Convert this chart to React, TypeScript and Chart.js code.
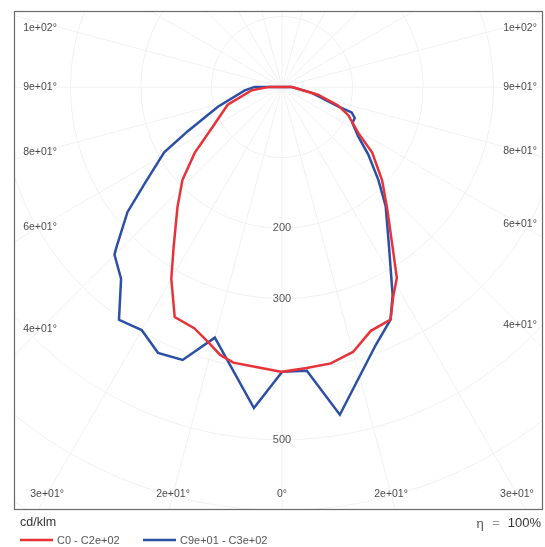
import React, { useEffect, useRef } from "react";
import { Chart, registerables } from "chart.js";

Chart.register(...registerables);

// ---- Data (gamma angle in degrees from nadir, negative = left; intensity in cd/klm)
const redAngles = [-90, -84, -72, -60, -53, -47, -41, -34, -30, -25, -20, -16, -13, -10, -5, 0, 5, 10, 15, 20, 25, 28, 31, 34, 41, 47, 54, 59, 67, 72, 78, 90];
const redValues = [20, 43, 81, 114, 155, 193, 226, 275, 314, 360, 364, 377, 390, 397, 399, 404, 400, 398, 389, 368, 364, 336, 316, 282, 227, 194, 158, 126, 102, 83, 52, 14];

const blueAngles = [-90, -85, -73, -65, -61, -55, -51, -46, -45, -40, -35, -30, -25, -20, -15, -5, 0, 5, 10, 20, 25, 28, 34, 41, 46, 52, 57, 63, 67, 70, 71, 79, 90];
const blueValues = [40, 53, 95, 147, 191, 237, 282, 326, 336, 355, 403, 398, 416, 412, 368, 457, 404, 404, 472, 389, 364, 334, 271, 224, 190, 155, 129, 112, 112, 105, 84, 43, 14];

const seriesLabels = ["C0 - C2e+02", "C9e+01 - C3e+02"];
const seriesColors = ["#e8323a", "#2c4fa6"];

const gridCircles = [100, 200, 300, 400, 500, 600, 700];
const radialTickValues = [200, 300, 500];
const gridAngleStep = 15;

const angleTicks = [-105, -90, -75, -60, -45, -30, -15, 0, 15, 30, 45, 60, 75, 90, 105];
const angleTickLabels = ["1e+02°", "9e+01°", "8e+01°", "6e+01°", "4e+01°", "3e+01°", "2e+01°", "0°", "2e+01°", "3e+01°", "4e+01°", "6e+01°", "8e+01°", "9e+01°", "1e+02°"];

const unitLabel = "cd/klm";
const efficiencyLabel = "100%";

const FONT = "'Liberation Sans', Arial, sans-serif";

function toXY(angles: number[], values: number[]) {
  const pts = angles.map((a, i) => {
    const t = (a * Math.PI) / 180;
    return { x: values[i] * Math.sin(t), y: -values[i] * Math.cos(t) };
  });
  if (pts.length) pts.push({ ...pts[0] });
  return pts;
}

const photometricPlugin = {
  id: "photometric",
  beforeDatasetsDraw(chart: any) {
    const { ctx, chartArea: ca, scales } = chart;
    const xs = scales.x;
    const ys = scales.y;
    const ox = xs.getPixelForValue(0);
    const oy = ys.getPixelForValue(0);
    const k = xs.getPixelForValue(100) - ox;
    ctx.save();
    ctx.beginPath();
    ctx.rect(ca.left, ca.top, ca.right - ca.left, ca.bottom - ca.top);
    ctx.clip();
    ctx.strokeStyle = "#f1f1f1";
    ctx.lineWidth = 1;
    gridCircles.forEach((r) => {
      ctx.beginPath();
      ctx.arc(ox, oy, (r * k) / 100, 0, Math.PI * 2);
      ctx.stroke();
    });
    const far = 2000;
    for (let a = 0; a < 360; a += gridAngleStep) {
      const t = (a * Math.PI) / 180;
      ctx.beginPath();
      ctx.moveTo(ox, oy);
      ctx.lineTo(ox + far * Math.sin(t), oy + far * Math.cos(t));
      ctx.stroke();
    }
    ctx.restore();

    // radial value labels
    ctx.save();
    ctx.fillStyle = "#555";
    ctx.font = `11px ${FONT}`;
    ctx.textAlign = "center";
    ctx.textBaseline = "middle";
    radialTickValues.forEach((v) => {
      ctx.fillText(String(v), ox, ys.getPixelForValue(-v));
    });

    // angle labels
    ctx.font = `10.5px ${FONT}`;
    ctx.fillStyle = "#4a4a4a";
    const L = ca.left + 26;
    const R = ca.right - 23;
    const T = ca.top + 17;
    const B = ca.bottom - 16;
    angleTicks.forEach((a, i) => {
      const t = (a * Math.PI) / 180;
      const dx = Math.sin(t);
      const dy = Math.cos(t);
      let X: number, Y: number;
      if (Math.abs(a) >= 45) {
        X = a < 0 ? L : R;
        const tt = Math.abs(X - ox) / Math.abs(dx);
        Y = Math.min(B, Math.max(T, oy + tt * dy));
      } else {
        Y = B;
        const tt = (B - oy) / dy;
        X = ox + tt * dx;
      }
      ctx.fillText(angleTickLabels[i], X, Y);
    });
    ctx.restore();
  },
  afterDraw(chart: any) {
    const { ctx, chartArea: ca } = chart;
    ctx.save();
    // frame
    ctx.strokeStyle = "#6a6a6a";
    ctx.lineWidth = 1.2;
    ctx.strokeRect(ca.left + 0.5, ca.top + 0.5, ca.right - ca.left - 1, ca.bottom - ca.top - 1);

    // unit label
    ctx.fillStyle = "#333";
    ctx.font = `12.5px ${FONT}`;
    ctx.textBaseline = "middle";
    ctx.textAlign = "left";
    ctx.fillText(unitLabel, ca.left + 6, ca.bottom + 13);

    // efficiency
    ctx.textAlign = "right";
    ctx.font = `13px ${FONT}`;
    ctx.fillText(efficiencyLabel, ca.right - 2, ca.bottom + 13);
    const w = ctx.measureText(efficiencyLabel).width;
    ctx.fillStyle = "#999";
    ctx.fillText("=", ca.right - 2 - w - 8, ca.bottom + 13);
    ctx.fillStyle = "#555";
    ctx.fillText("η", ca.right - 2 - w - 24, ca.bottom + 14);

    // legend
    const ly = ca.bottom + 30;
    let lx = ca.left + 6;
    ctx.font = `11px ${FONT}`;
    ctx.textAlign = "left";
    chart.data.datasets.forEach((ds: any) => {
      ctx.strokeStyle = ds.borderColor;
      ctx.lineWidth = 2.5;
      ctx.beginPath();
      ctx.moveTo(lx, ly);
      ctx.lineTo(lx + 33, ly);
      ctx.stroke();
      ctx.fillStyle = "#555";
      ctx.fillText(ds.label, lx + 37, ly + 1);
      lx += 123;
    });
    ctx.restore();
  },
};

export default function App() {
  const ref = useRef<HTMLCanvasElement | null>(null);
  useEffect(() => {
    if (!ref.current) return;
    const chart = new Chart(ref.current, {
      type: "scatter",
      data: {
        datasets: [
          {
            label: seriesLabels[0],
            data: toXY(redAngles, redValues),
            borderColor: seriesColors[0],
            backgroundColor: seriesColors[0],
            showLine: true,
            borderWidth: 2.5,
            pointRadius: 0,
            tension: 0,
          },
          {
            label: seriesLabels[1],
            data: toXY(blueAngles, blueValues),
            borderColor: seriesColors[1],
            backgroundColor: seriesColors[1],
            showLine: true,
            borderWidth: 2.5,
            pointRadius: 0,
            tension: 0,
          },
        ],
      },
      options: {
        animation: false,
        responsive: false,
        layout: { padding: { left: 14, top: 11, right: 2, bottom: 37 } },
        plugins: { legend: { display: false }, tooltip: { enabled: false } },
        scales: {
          x: { type: "linear", display: false, min: -380, max: 370 },
          y: { type: "linear", display: false, min: -600, max: 108 },
        },
      },
      plugins: [photometricPlugin],
    });
    return () => chart.destroy();
  }, []);
  return (
    <div style={{ position: "fixed", left: 0, top: 0, width: 545, height: 547, background: "#fff" }}>
      <canvas ref={ref} width={545} height={547} style={{ display: "block" }} />
    </div>
  );
}
